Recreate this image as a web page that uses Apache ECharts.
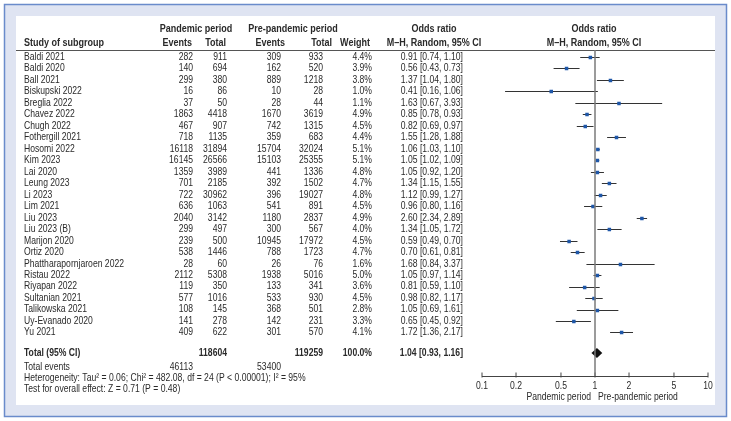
<!DOCTYPE html>
<html><head><meta charset="utf-8">
<script src="https://cdn.jsdelivr.net/npm/echarts@6/dist/echarts.min.js"></script>
<style>html,body{margin:0;padding:0;background:#fff}#c{width:731px;height:421px}</style>
</head><body><div id="c"></div>
<script>
const studies = ["Baldi 2021","Baldi 2020","Ball 2021","Biskupski 2022","Breglia 2022","Chavez 2022","Chugh 2022","Fothergill 2021","Hosomi 2022","Kim 2023","Lai 2020","Leung 2023","Li 2023","Lim 2021","Liu 2023","Liu 2023 (B)","Marijon 2020","Ortiz 2020","Phattharapornjaroen 2022","Ristau 2022","Riyapan 2022","Sultanian 2021","Talikowska 2021","Uy-Evanado 2020","Yu 2021"];
const pandEvents = [282,140,299,16,37,1863,467,718,16118,16145,1359,701,722,636,2040,299,239,538,28,2112,119,577,108,141,409];
const pandTotal = [911,694,380,86,50,4418,907,1135,31894,26566,3989,2185,30962,1063,3142,497,500,1446,60,5308,350,1016,145,278,622];
const preEvents = [309,162,889,10,28,1670,742,359,15704,15103,441,392,396,541,1180,300,10945,788,26,1938,133,533,368,142,301];
const preTotal = [933,520,1218,28,44,3619,1315,683,32024,25355,1336,1502,19027,891,2837,567,17972,1723,76,5016,341,930,501,231,570];
const weights = [4.4,3.9,3.8,1.0,1.1,4.9,4.5,4.4,5.1,5.1,4.8,4.7,4.8,4.5,4.9,4.0,4.5,4.7,1.6,5.0,3.6,4.5,2.8,3.3,4.1];
const oddsRatio = [0.91,0.56,1.37,0.41,1.63,0.85,0.82,1.55,1.06,1.05,1.05,1.34,1.12,0.96,2.60,1.34,0.59,0.70,1.68,1.05,0.81,0.98,1.05,0.65,1.72];
const ciLow = [0.74,0.43,1.04,0.16,0.67,0.78,0.69,1.28,1.03,1.02,0.92,1.15,0.99,0.80,2.34,1.05,0.49,0.61,0.84,0.97,0.59,0.82,0.69,0.45,1.36];
const ciHigh = [1.10,0.73,1.80,1.06,3.93,0.93,0.97,1.88,1.10,1.09,1.20,1.55,1.27,1.16,2.89,1.72,0.70,0.81,3.37,1.14,1.10,1.17,1.61,0.92,2.17];
const pooled = [1.04, 0.93, 1.16];           // OR, lower, upper
const totalSizes = [118604, 119259];          // pandemic total, pre-pandemic total
const totalEvents = [46113, 53400];           // pandemic events, pre-pandemic events
const xTicks = [0.1, 0.2, 0.5, 1, 2, 5, 10];
const heterogeneity = "Heterogeneity: Tau\u00b2 = 0.06; Chi\u00b2 = 482.08, df = 24 (P < 0.00001); I\u00b2 = 95%";
const overallTest = "Test for overall effect: Z = 0.71 (P = 0.48)";

const FS = 10.5, HFS = 11;
const TXT = '#2a2a2a';
const Y_MIN = -0.61, Y_MAX = 27.79;
const ROW_TOTAL = 25.78, ROW_EVENTS = 27.0, ROW_HET = 27.96, ROW_TEST = 28.92;

// choose a condensed-looking font: real narrow face if present, otherwise horizontally scaled sans,
// calibrated against the widths of a few strings in the reference
const CALIB = [[heterogeneity, 278], ["Phattharapornjaroen 2022", 105], ["0.91 [0.74, 1.10]", 60]];
let FAMILY = '"Liberation Sans", Arial, sans-serif', SX = 0.82;
(function pickFont() {
  const ctx = document.createElement('canvas').getContext('2d');
  function ratio(fam) {
    ctx.font = FS + 'px ' + fam;
    let lr = 0;
    CALIB.forEach(([s, target]) => { lr += Math.log(target / ctx.measureText(s).width); });
    return Math.exp(lr / CALIB.length);
  }
  const rr = ratio('"Liberation Sans", Arial, sans-serif');
  const rn = ratio('"Liberation Sans Narrow", "Arial Narrow", "Liberation Sans", sans-serif');
  if (rn > rr * 1.1) { FAMILY = '"Liberation Sans Narrow", "Arial Narrow", sans-serif'; SX = rn; }
  else { SX = rr; }
  SX = Math.max(0.7, Math.min(1.05, SX));
})();

function fmtCI(o, l, h) { return o.toFixed(2) + ' [' + l.toFixed(2) + ', ' + h.toFixed(2) + ']'; }
function t(text, x, y, align, bold, size) {
  const fs = size || (bold ? HFS : FS);
  return { type: 'text', silent: true, x: x, y: y, scaleX: SX, scaleY: 1,
    style: { text: text, x: 0, y: 0, align: align, verticalAlign: 'middle',
      fill: TXT, font: (bold ? 'bold ' : '') + fs + 'px ' + FAMILY } };
}

const chart = echarts.init(document.getElementById('c'), null, { renderer: 'canvas' });

const tableData = studies.map((s, i) => [1, i]);
const forestData = oddsRatio.map((v, i) => [v, i, ciLow[i], ciHigh[i]]);
const tickData = xTicks.map(v => [v, Y_MAX]);

const option = {
  animation: false,
  grid: { left: 482, right: 23, top: 50, bottom: 45, outerBoundsMode: 'none' },
  xAxis: {
    type: 'log', logBase: 10, min: 0.1, max: 10,
    axisLine: { show: false }, axisTick: { show: false }, axisLabel: { show: false },
    splitLine: { show: false }, minorTick: { show: false }
  },
  yAxis: { type: 'value', inverse: true, min: Y_MIN, max: Y_MAX, show: false },
  graphic: [
    { type: 'rect', silent: true, z: -10, shape: { x: 4.5, y: 4.5, width: 722, height: 412 },
      style: { fill: '#dfe4f2', stroke: '#6a8bcb', lineWidth: 1.5 } },
    { type: 'rect', silent: true, z: -9, shape: { x: 16, y: 16, width: 699, height: 389 },
      style: { fill: '#ffffff' } },
    { type: 'line', silent: true, shape: { x1: 16, y1: 50.5, x2: 715, y2: 50.5 }, style: { stroke: '#555', lineWidth: 1 } },
    t('Pandemic period', 196, 29, 'center', true),
    t('Pre-pandemic period', 293, 29, 'center', true),
    t('Odds ratio', 434, 29, 'center', true),
    t('Odds ratio', 594, 29, 'center', true),
    t('Study of subgroup', 24, 43, 'left', true),
    t('Events', 192, 43, 'right', true),
    t('Total', 226, 43, 'right', true),
    t('Events', 285, 43, 'right', true),
    t('Total', 332, 43, 'right', true),
    t('Weight', 370, 43, 'right', true),
    t('M\u2013H, Random, 95% CI', 434, 43, 'center', true),
    t('M\u2013H, Random, 95% CI', 594, 43, 'center', true),
    t('Pandemic period', 591, 397, 'right', false),
    t('Pre-pandemic period', 598, 397, 'left', false)
  ],
  series: [
    {
      type: 'custom', name: 'table', silent: true, clip: false,
      data: tableData, encode: { x: 0, y: 1 },
      renderItem: (params, api) => {
        const i = params.dataIndex;
        const y = api.coord([1, api.value(1)])[1];
        return { type: 'group', children: [
          t(studies[i], 24, y, 'left'),
          t(String(pandEvents[i]), 193, y, 'right'),
          t(String(pandTotal[i]), 227, y, 'right'),
          t(String(preEvents[i]), 281, y, 'right'),
          t(String(preTotal[i]), 323, y, 'right'),
          t(weights[i].toFixed(1) + '%', 372, y, 'right'),
          t(fmtCI(oddsRatio[i], ciLow[i], ciHigh[i]), 463, y, 'right')
        ] };
      }
    },
    {
      type: 'custom', name: 'summary', silent: true, clip: false,
      data: [[1, ROW_TOTAL]], encode: { x: 0, y: 1 },
      renderItem: (params, api) => {
        const y = api.coord([1, ROW_TOTAL])[1];
        const ye = api.coord([1, ROW_EVENTS])[1];
        const yh = api.coord([1, ROW_HET])[1];
        const yt = api.coord([1, ROW_TEST])[1];
        return { type: 'group', children: [
          t('Total (95% CI)', 24, y, 'left', true, FS),
          t(String(totalSizes[0]), 227, y, 'right', true, FS),
          t(String(totalSizes[1]), 323, y, 'right', true, FS),
          t('100.0%', 372, y, 'right', true, FS),
          t(fmtCI(pooled[0], pooled[1], pooled[2]), 463, y, 'right', true, FS),
          t('Total events', 24, ye, 'left'),
          t(String(totalEvents[0]), 193, ye, 'right'),
          t(String(totalEvents[1]), 281, ye, 'right'),
          t(heterogeneity, 24, yh, 'left'),
          t(overallTest, 24, yt, 'left')
        ] };
      }
    },
    {
      type: 'custom', name: 'axis', silent: true, clip: false,
      data: tickData, encode: { x: 0, y: 1 },
      renderItem: (params, api) => {
        const c = api.coord([api.value(0), api.value(1)]);
        const y = Math.round(c[1]) + 0.5;
        const children = [
          { type: 'line', shape: { x1: c[0], y1: y - 4, x2: c[0], y2: y + 1 }, style: { stroke: '#444', lineWidth: 1 } },
          t(String(xTicks[params.dataIndex]), c[0], c[1] + 10, 'center')
        ];
        if (params.dataIndex === 0) {
          const e = api.coord([xTicks[xTicks.length - 1], api.value(1)]);
          children.push({ type: 'line', shape: { x1: c[0], y1: y, x2: e[0], y2: y }, style: { stroke: '#444', lineWidth: 1 } });
        }
        return { type: 'group', children: children };
      }
    },
    {
      type: 'custom', name: 'forest', silent: true,
      data: forestData, encode: { x: 0, y: 1 },
      renderItem: (params, api) => {
        const row = api.value(1);
        const c = api.coord([api.value(0), row]);
        const l = api.coord([api.value(2), row]);
        const h = api.coord([api.value(3), row]);
        const y = Math.round(c[1]) + 0.5;
        return { type: 'group', children: [
          { type: 'line', shape: { x1: l[0], y1: y, x2: h[0], y2: y }, style: { stroke: '#333', lineWidth: 1 } },
          { type: 'rect', shape: { x: c[0] - 1.75, y: y - 1.75, width: 3.5, height: 3.5 }, style: { fill: '#1f57a8' } }
        ] };
      },
      markLine: {
        silent: true, symbol: ['none', 'none'], label: { show: false },
        lineStyle: { color: '#7a7a7a', width: 1.5, type: 'solid' },
        data: [{ xAxis: 1 }]
      }
    },
    {
      type: 'custom', name: 'pooled', silent: true,
      data: [[pooled[0], ROW_TOTAL, pooled[1], pooled[2]]], encode: { x: 0, y: 1 },
      renderItem: (params, api) => {
        const row = api.value(1);
        const c = api.coord([api.value(0), row]);
        const l = api.coord([api.value(2), row]);
        const h = api.coord([api.value(3), row]);
        return { type: 'polygon', shape: { points: [[l[0], c[1]], [c[0], c[1] - 5], [h[0], c[1]], [c[0], c[1] + 5]] },
          style: { fill: '#111' } };
      }
    }
  ]
};
chart.setOption(option);
</script>
</body></html>
